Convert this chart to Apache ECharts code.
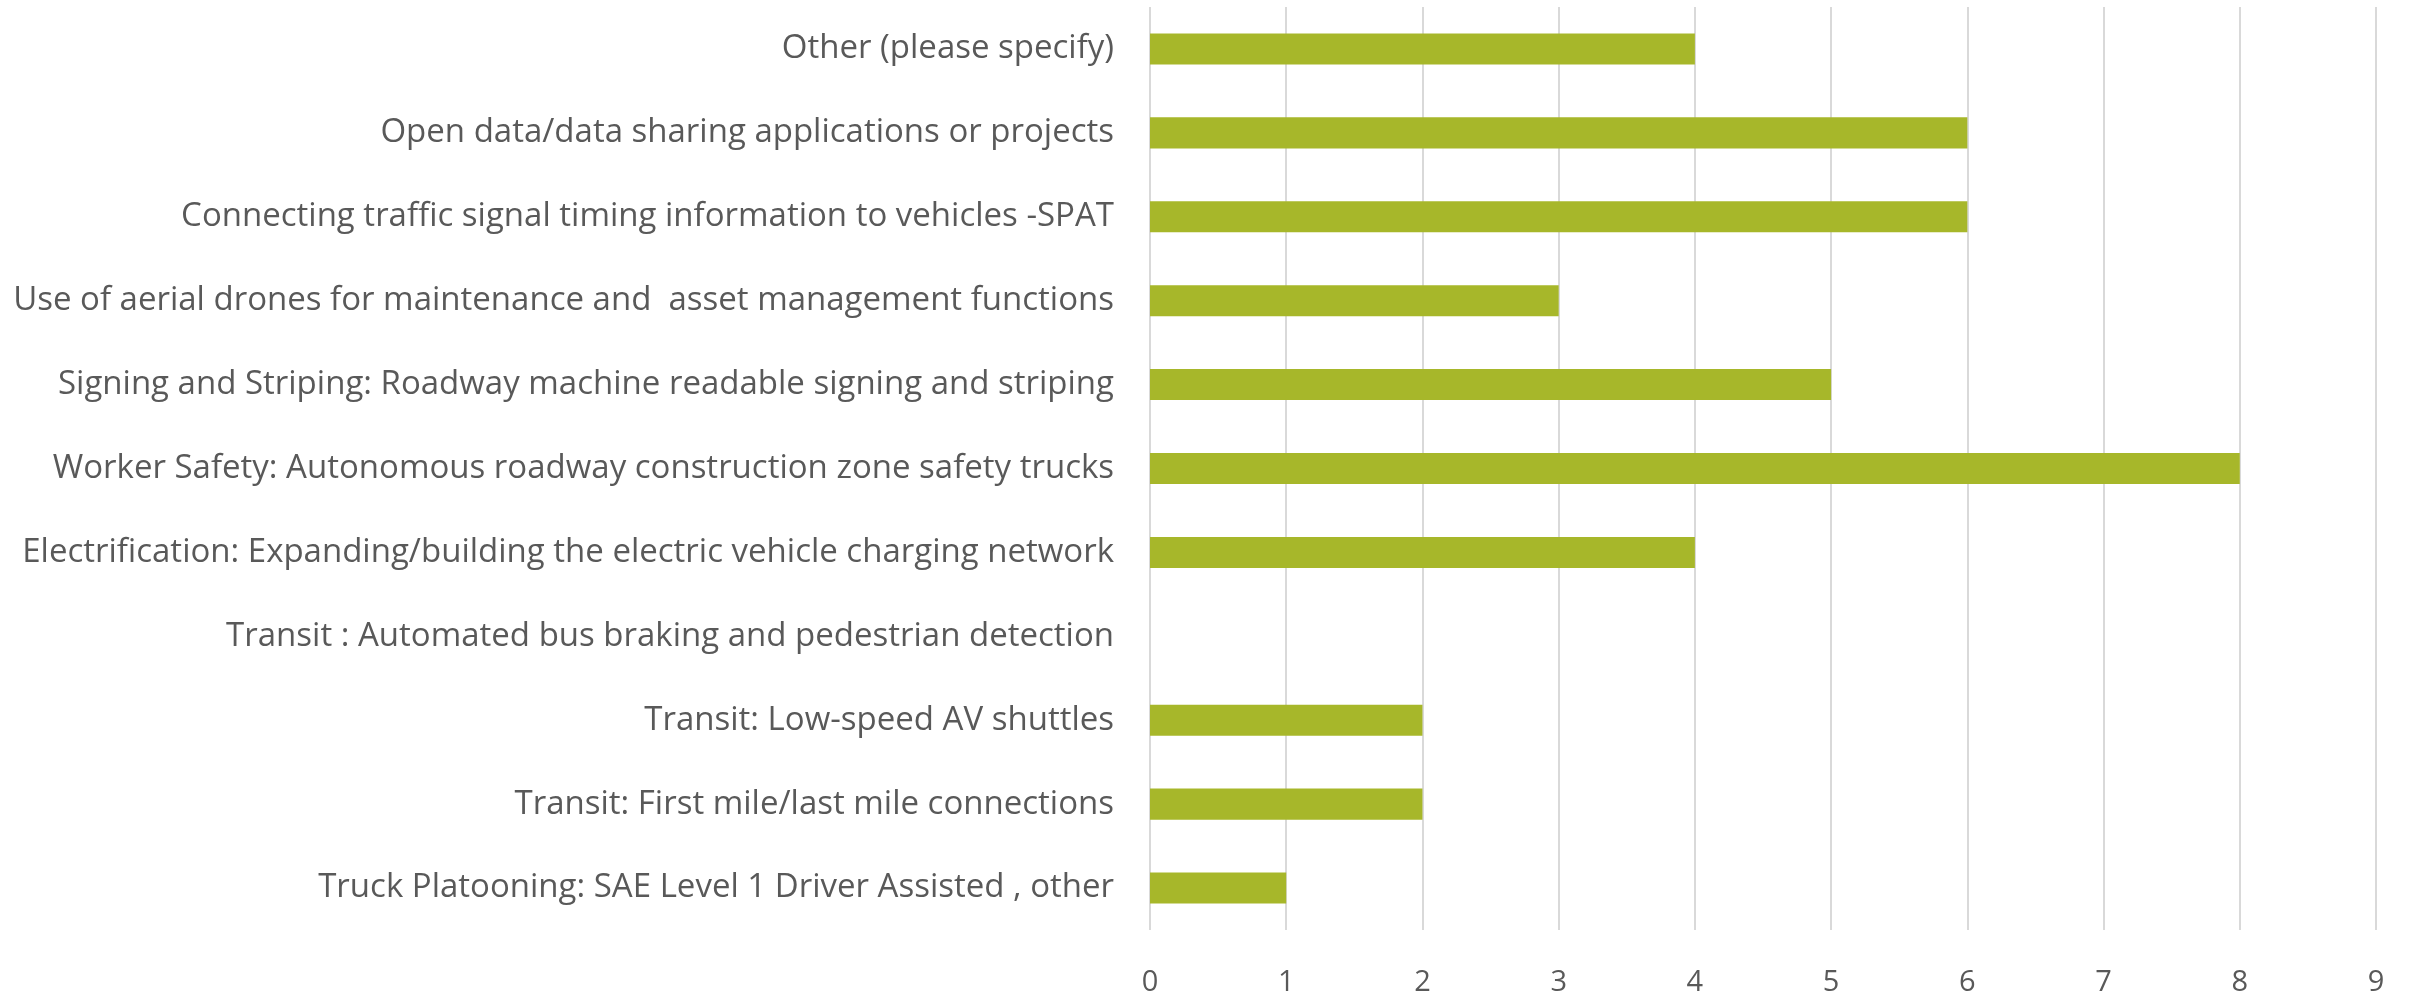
<!DOCTYPE html>
<html>
<head>
<meta charset="utf-8">
<script src="https://cdn.jsdelivr.net/npm/echarts@6/dist/echarts.min.js"></script>
<style>
  html, body { margin: 0; padding: 0; background: #fff; }
  #chart { width: 2410px; height: 1001px; }
</style>
</head>
<body>
<div id="chart"></div>
<script>
// bottom to top, as the category axis draws them
const categories = [
  'Truck Platooning: SAE Level 1 Driver Assisted , other',
  'Transit: First mile/last mile connections',
  'Transit: Low-speed AV shuttles',
  'Transit : Automated bus braking and pedestrian detection',
  'Electrification: Expanding/building the electric vehicle charging network',
  'Worker Safety: Autonomous roadway construction zone safety trucks',
  'Signing and Striping: Roadway machine readable signing and striping',
  'Use of aerial drones for maintenance and  asset management functions',
  'Connecting traffic signal timing information to vehicles -SPAT',
  'Open data/data sharing applications or projects',
  'Other (please specify)'
]
const counts = [1, 2, 2, 0, 4, 8, 5, 3, 6, 6, 4]
const axisMin = 0
const axisMax = 9
const axisStep = 1

const barColor = '#A7B72A'
const textColor = '#595959'
const fontFamily = '"Open Sans", "Noto Sans", sans-serif'

const chart = echarts.init(document.getElementById('chart'))
chart.setOption({
  animation: false,
  backgroundColor: '#fff',
  grid: { left: 1150, right: 34, top: 7, bottom: 71, containLabel: false },
  xAxis: {
    type: 'value',
    min: axisMin,
    max: axisMax,
    interval: axisStep,
    axisLine: { show: false },
    axisTick: { show: false },
    splitLine: { show: true, lineStyle: { color: '#D9D9D9', width: 2 } },
    axisLabel: { color: textColor, fontFamily: fontFamily, fontSize: 29, margin: 38 }
  },
  yAxis: {
    type: 'category',
    data: categories,
    axisLine: { show: false },
    axisTick: { show: false },
    axisLabel: { color: textColor, fontFamily: fontFamily, fontSize: 33, margin: 36 }
  },
  series: [{
    type: 'bar',
    data: counts,
    barCategoryGap: '63%',
    itemStyle: { color: barColor }
  }]
})
</script>
</body>
</html>
